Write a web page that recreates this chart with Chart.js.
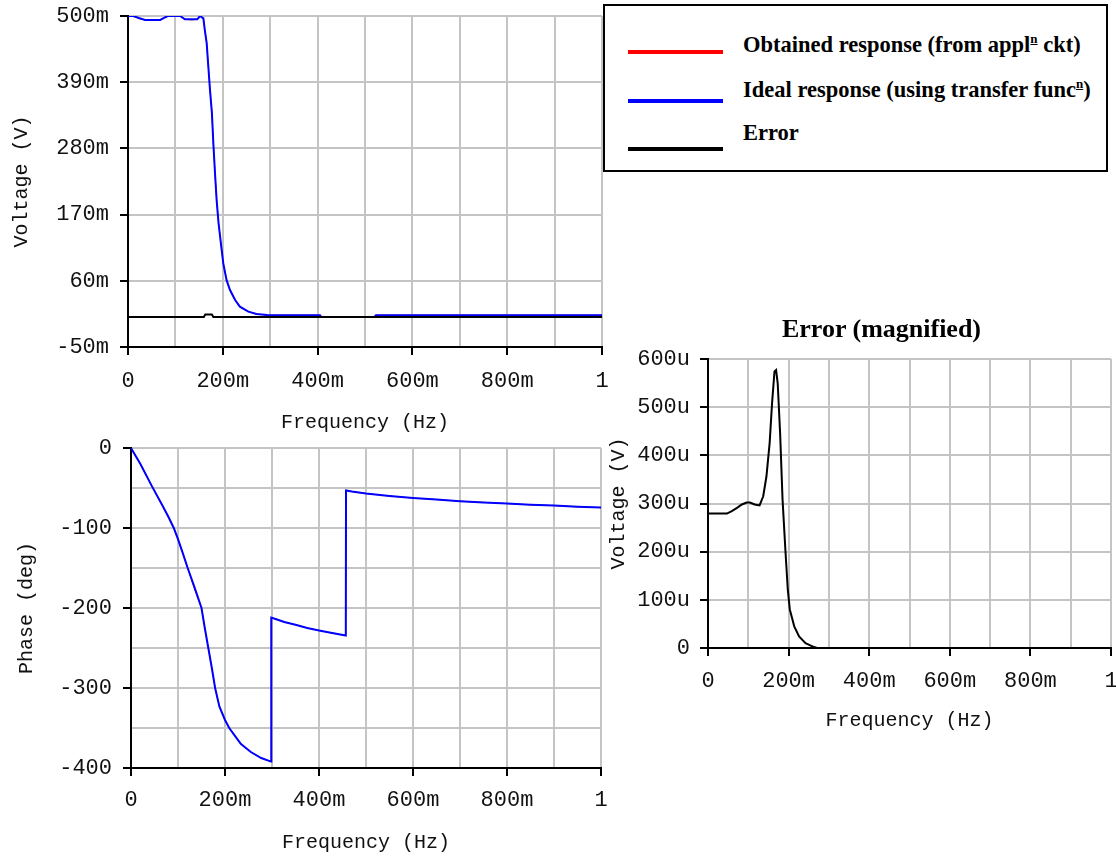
<!DOCTYPE html>
<html>
<head>
<meta charset="utf-8">
<script src="https://cdn.jsdelivr.net/npm/chart.js@4.4.1/dist/chart.umd.min.js"></script>
<style>
html,body{margin:0;padding:0;background:#fff;overflow:hidden;width:1116px;height:862px;}
canvas{position:absolute;}
#legend{position:absolute;left:603px;top:4px;width:505px;height:168px;box-sizing:border-box;border:2px solid #000;background:#fff;z-index:2;}
#legend .sw{position:absolute;left:23px;width:95px;height:4px;}
#legend .tx{position:absolute;left:138px;white-space:nowrap;font:bold 22.5px "Liberation Serif","Times New Roman",serif;line-height:26px;color:#000;}
#legend sup{font-size:13px;vertical-align:9px;line-height:0;text-decoration:underline;}
#errTitle{position:absolute;left:700px;width:363px;top:314px;text-align:center;font:bold 26px "Liberation Serif","Times New Roman",serif;line-height:30px;color:#000;z-index:2;}
</style>
</head>
<body>
<canvas id="cMag" width="615" height="440" style="left:0;top:0;width:615px;height:440px;"></canvas>
<canvas id="cPhase" width="615" height="432" style="left:0;top:430px;width:615px;height:432px;"></canvas>
<canvas id="cErr" width="516" height="410" style="left:600px;top:330px;width:516px;height:410px;"></canvas>
<div id="legend">
  <div class="sw" style="top:44px;background:#ff0000;"></div>
  <div class="tx" style="top:26px;">Obtained response (from appl<sup>n</sup> ckt)</div>
  <div class="sw" style="top:93px;background:#0000ff;"></div>
  <div class="tx" style="top:71px;">Ideal response (using transfer func<sup>n</sup>)</div>
  <div class="sw" style="top:141px;background:#000000;"></div>
  <div class="tx" style="top:114px;">Error</div>
</div>
<div id="errTitle">Error (magnified)</div>
<script>
// ---- tick values / labels ----
const freqTicks = [0, 0.1, 0.2, 0.3, 0.4, 0.5, 0.6, 0.7, 0.8, 0.9, 1];
const freqTickLabels = ['0', '', '200m', '', '400m', '', '600m', '', '800m', '', '1'];
const magTicks = [-0.05, 0.06, 0.17, 0.28, 0.39, 0.5];
const magTickLabels = ['-50m', '60m', '170m', '280m', '390m', '500m'];
const phaseTicks = [-400, -350, -300, -250, -200, -150, -100, -50, 0];
const phaseTickLabels = ['-400', '', '-300', '', '-200', '', '-100', '', '0'];
const errTicks = [0, 0.0001, 0.0002, 0.0003, 0.0004, 0.0005, 0.0006];
const errTickLabels = ['0', '100u', '200u', '300u', '400u', '500u', '600u'];

// ---- magnitude (V) vs frequency (Hz) ----
const magFreq = [0, 0.011, 0.023, 0.036, 0.05, 0.068, 0.076, 0.084, 0.11, 0.12,
  0.135, 0.146, 0.152, 0.159, 0.162, 0.166, 0.169, 0.173, 0.177, 0.180,
  0.184, 0.187, 0.191, 0.196, 0.201, 0.208, 0.215, 0.226, 0.236, 0.254,
  0.271, 0.293, 0.30, 0.35, 0.405, 0.408, 0.46, 0.52, 0.523, 0.6,
  0.7, 0.8, 0.9, 1.0];
const magIdeal = [0.500, 0.500, 0.4967, 0.4934, 0.4934, 0.4934, 0.497, 0.500, 0.500, 0.4945,
  0.4945, 0.4945, 0.500, 0.496, 0.477, 0.455, 0.421, 0.377, 0.339, 0.289,
  0.233, 0.194, 0.156, 0.122, 0.089, 0.061, 0.045, 0.028, 0.017, 0.0087,
  0.0048, 0.003, 0.0028, 0.0028, 0.0028, 0.0, 0.0, 0.0, 0.0028, 0.0028,
  0.0028, 0.0028, 0.0028, 0.0028];
const magObtained = [0.500, 0.500, 0.4955, 0.4934, 0.4934, 0.4934, 0.497, 0.500, 0.500, 0.4945,
  0.4935, 0.4945, 0.500, 0.496, 0.477, 0.455, 0.421, 0.377, 0.339, 0.289,
  0.233, 0.194, 0.156, 0.122, 0.089, 0.061, 0.045, 0.028, 0.017, 0.0087,
  0.0048, 0.003, 0.0028, 0.0028, 0.0028, 0.0, 0.0, 0.0, 0.0028, 0.0028,
  0.0028, 0.0028, 0.0028, 0.0028];
const magErrFreq = [0, 0.160, 0.163, 0.177, 0.180, 1.0];
const magError = [0, 0, 0.004, 0.004, 0, 0];

// ---- phase (deg) vs frequency (Hz) ----
const phaseFreq = [0, 0.02, 0.0447, 0.068, 0.08, 0.091, 0.1, 0.11, 0.1206, 0.135,
  0.150, 0.157, 0.1645, 0.172, 0.179, 0.188, 0.2, 0.209, 0.22, 0.234,
  0.255, 0.277, 0.298, 0.2985, 0.309, 0.326, 0.35, 0.375, 0.40, 0.425,
  0.457, 0.4575, 0.47, 0.5, 0.55, 0.6, 0.65, 0.7, 0.75, 0.8,
  0.85, 0.9, 0.95, 1.0];
const phaseIdeal = [0, -20, -48, -73, -86.5, -100, -114, -131, -150, -174,
  -200, -225, -250, -275, -300, -323, -340, -350, -359, -370,
  -380, -387.5, -392, -212, -214, -217.5, -221, -225, -228, -231,
  -234.5, -53, -54.5, -57, -60, -62.5, -64.5, -66.5, -68, -69.5,
  -71, -72, -73.5, -74.5];
const phaseObtained = [0, -20, -48, -73, -86.5, -100, -114, -131, -150, -176,
  -200, -225, -250, -275, -300, -323, -340, -350, -359, -370,
  -380, -387.5, -392, -212, -214, -217.5, -221, -225, -228, -231,
  -234.5, -53, -54.5, -57, -60, -62.5, -64.5, -66.5, -68, -69.5,
  -71, -72, -73.5, -74.5];

// ---- error (magnified), V ----
const errFreq = [0, 0.047, 0.059, 0.072, 0.084, 0.096, 0.104, 0.116, 0.128, 0.137,
  0.145, 0.153, 0.159, 0.165, 0.169, 0.173, 0.179, 0.185, 0.192, 0.198,
  0.203, 0.214, 0.226, 0.242, 0.263, 0.271, 0.4, 0.6, 0.8, 1.0];
const errMagnified = [279e-6, 279e-6, 284e-6, 291e-6, 298e-6, 302e-6, 302e-6, 298e-6, 296e-6, 315e-6,
  356e-6, 426e-6, 509e-6, 574e-6, 577e-6, 549e-6, 445e-6, 308e-6, 204e-6, 121e-6,
  80e-6, 45e-6, 24e-6, 10e-6, 2e-6, 0, 0, 0, 0, 0];

// ---- helpers ----
const MONO = 'Liberation Mono';
const GRID = '#c4c4c4';
const pts = (xs, ys) => xs.map((x, i) => ({x: x, y: ys[i]}));
const line = (xs, ys, color, order, width) => ({
  data: pts(xs, ys), borderColor: color, backgroundColor: color,
  borderWidth: width, pointRadius: 0, tension: 0, fill: false, order: order
});

function xScale(h, pad, titlePad) {
  return {
    type: 'linear', min: 0, max: 1,
    afterBuildTicks: s => { s.ticks = freqTicks.map(v => ({value: v})); },
    afterFit: s => { s.height = h; s.paddingLeft = 0; s.paddingRight = 0; },
    ticks: {callback: (v, i) => freqTickLabels[i], font: {family: MONO, size: 22}, color: '#111',
      padding: pad, maxRotation: 0, minRotation: 0, autoSkip: false},
    grid: {color: GRID, lineWidth: 2, tickLength: 8, tickWidth: 2,
      tickColor: c => freqTickLabels[c.index] ? '#000' : 'rgba(0,0,0,0)'},
    border: {color: '#000', width: 2},
    title: {display: true, text: 'Frequency (Hz)', font: {family: MONO, size: 20}, color: '#111',
      padding: {top: 0, bottom: titlePad}}
  };
}
function yScale(min, max, ticks, labels, w, pad, text, titlePad) {
  return {
    type: 'linear', min: min, max: max,
    afterBuildTicks: s => { s.ticks = ticks.map(v => ({value: v})); },
    afterFit: s => { s.width = w; s.paddingTop = 0; s.paddingBottom = 0; },
    ticks: {callback: (v, i) => labels[i], font: {family: MONO, size: 22}, color: '#111',
      padding: pad, autoSkip: false},
    grid: {color: GRID, lineWidth: 2, tickLength: 8, tickWidth: 2,
      tickColor: c => labels[c.index] ? '#000' : 'rgba(0,0,0,0)'},
    border: {color: '#000', width: 2},
    title: {display: true, text: text, font: {family: MONO, size: 20}, color: '#111',
      padding: {top: titlePad, bottom: 0}}
  };
}
const baseOpts = (padding, scales) => ({
  responsive: false, maintainAspectRatio: false, animation: false,
  layout: {padding: padding},
  plugins: {legend: {display: false}, tooltip: {enabled: false}, title: {display: false}},
  scales: scales
});

new Chart(document.getElementById('cMag'), {
  type: 'line',
  data: {datasets: [
    line(magErrFreq, magError, '#000000', 0, 2),
    line(magFreq, magIdeal, '#0000ff', 1, 2),
    line(magFreq, magObtained, '#ff0000', 2, 1)
  ]},
  options: baseOpts({left: 0, top: 16, right: 13, bottom: 0}, {
    x: xScale(93, 13, 5),
    y: yScale(-0.05, 0.5, magTicks, magTickLabels, 128, 11, 'Voltage (V)', 10)
  })
});

new Chart(document.getElementById('cPhase'), {
  type: 'line',
  data: {datasets: [
    line(phaseFreq, phaseIdeal, '#0000ff', 1, 2),
    line(phaseFreq, phaseObtained, '#ff0000', 2, 1)
  ]},
  options: baseOpts({left: 0, top: 18, right: 14, bottom: 0}, {
    x: xScale(94, 11, 7),
    y: yScale(-400, 0, phaseTicks, phaseTickLabels, 131, 11, 'Phase (deg)', 15)
  })
});

new Chart(document.getElementById('cErr'), {
  type: 'line',
  data: {datasets: [
    line(errFreq, errMagnified, '#000000', 0, 2)
  ]},
  options: baseOpts({left: 0, top: 29, right: 5, bottom: 0}, {
    x: xScale(92, 12, 7),
    y: yScale(0, 0.0006, errTicks, errTickLabels, 108, 10, 'Voltage (V)', 7)
  })
});
</script>
</body>
</html>
